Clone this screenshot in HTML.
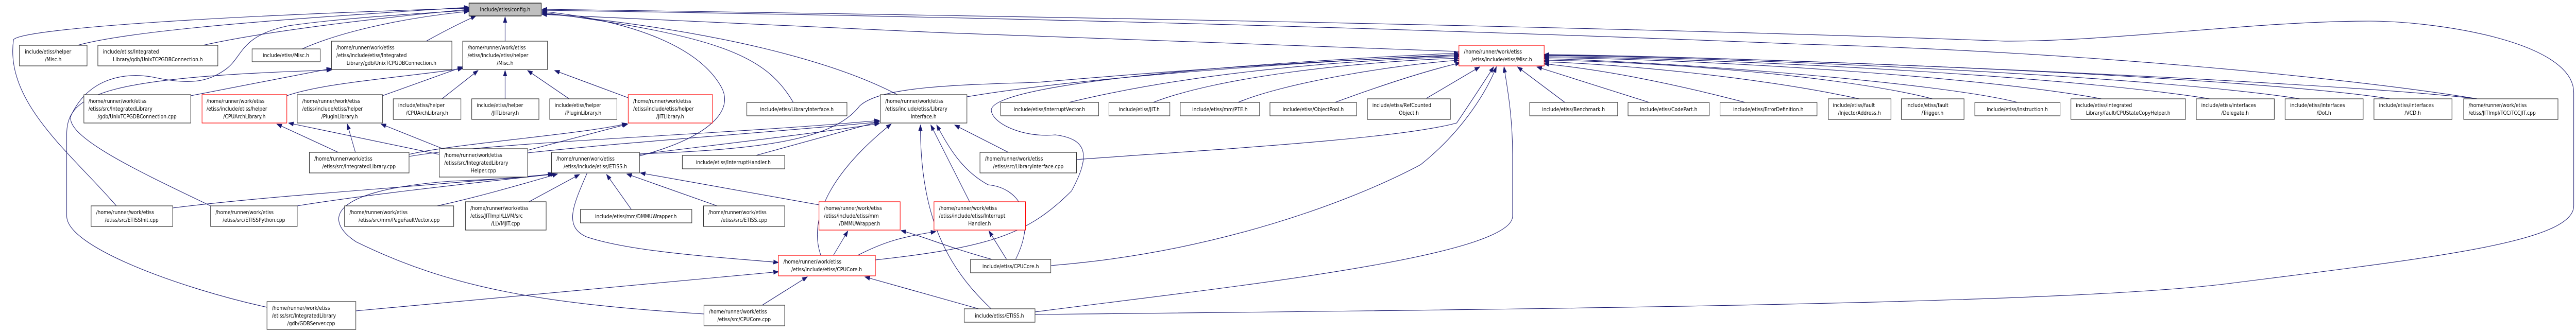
<!DOCTYPE html>
<html><head><meta charset="utf-8"><style>
html,body{margin:0;padding:0;background:#fff;width:100%;height:100%;overflow:hidden;}
svg{display:block;position:absolute;left:0;top:0;}
text{font-family:"DejaVu Sans","Liberation Sans",sans-serif;font-size:10.5px;fill:#000;}
</style></head><body>
<svg width="100%" height="100%" viewBox="0 0 5712 647" preserveAspectRatio="none" xmlns="http://www.w3.org/2000/svg">
<defs>
<marker id="a" markerUnits="userSpaceOnUse" markerWidth="12" markerHeight="10" refX="11" refY="5" orient="auto">
<path d="M0,1 L11,5 L0,9 Z" fill="#191970" stroke="#191970"/>
</marker>
</defs>
<g fill="none" stroke="#191970" stroke-width="1.1" marker-end="url(#a)">
<path d="M172,88 C320,52 800,28 1040,14"/>
<path d="M450,88 C620,55 900,30 1040,18"/>
<path d="M670,95 C760,60 900,34 1040,22"/>
<path d="M945,80 C990,58 1020,45 1055,31"/>
<path d="M258,400 C160,300 10,200 30,77 C50,55 500,30 1040,16"/>
<path d="M467,400 C300,330 130,260 160,220 C200,150 280,140 340,150 C420,165 460,160 500,135 C540,110 530,70 640,50 C760,35 900,28 1040,20"/>
<path d="M1120,80 L1120,33"/>
<path d="M1418,303 C1560,270 1630,220 1600,170 C1550,90 1400,40 1202,22"/>
<path d="M1759,199 C1700,110 1600,70 1202,24"/>
<path d="M1990,184 C1850,120 1600,60 1202,26"/>
<path d="M3235,100 C2800,90 1800,55 1202,28"/>
<path d="M5493,192 C5200,150 4600,100 4000,86 C3000,50 2000,30 1202,20"/>
<path d="M2295,611 C3500,600 4600,590 4950,550 C5400,500 5707,470 5707,400 L5707,180 C5707,80 5400,41 5254,41 C5000,41 4700,80 4446,80 C4000,65 3000,40 1202,18"/>
<path d="M423,186 L735,133"/>
<path d="M592,597 C400,560 148,480 148,420 L148,260 C148,180 240,150 735,136"/>
<path d="M636,186 C720,160 900,150 1026,133"/>
<path d="M848,186 L1026,130"/>
<path d="M980,192 L1060,137"/>
<path d="M1120,192 L1120,137"/>
<path d="M1262,192 L1170,137"/>
<path d="M1393,190 L1230,137"/>
<path d="M750,296 L614,241"/>
<path d="M974,300 L640,239"/>
<path d="M788,296 L770,241"/>
<path d="M982,289 L845,241"/>
<path d="M907,300 C1000,280 1300,260 1390,240"/>
<path d="M1170,292 L1392,241"/>
<path d="M907,304 C1100,275 1600,262 1950,234"/>
<path d="M1170,297 C1400,275 1700,258 1950,237"/>
<path d="M1418,300 C1600,280 1800,260 1950,240"/>
<path d="M1676,302 L1950,236"/>
<path d="M1820,496 C1790,420 1850,330 1976,241"/>
<path d="M2198,600 C2100,520 2040,420 2041,243"/>
<path d="M2150,392 L2064,243"/>
<path d="M2252,504 C2300,420 2260,365 2191,359 C2130,330 2100,280 2077,243"/>
<path d="M2236,296 L2117,243"/>
<path d="M2144,188 C2400,150 2900,120 3235,106"/>
<path d="M2370,199 C2600,150 2900,120 3235,110"/>
<path d="M2557,199 C2700,150 3000,120 3235,113"/>
<path d="M2745,199 C2850,160 3100,125 3235,117"/>
<path d="M2960,199 C3050,170 3150,140 3238,122"/>
<path d="M3163,191 L3281,130"/>
<path d="M3470,199 L3365,130"/>
<path d="M3657,199 L3408,130"/>
<path d="M3870,199 C3700,160 3550,135 3424,124"/>
<path d="M4123,192 C3900,150 3600,125 3424,120"/>
<path d="M4285,192 C4100,150 3700,120 3424,117"/>
<path d="M4474,199 C4300,160 3700,120 3424,114"/>
<path d="M4660,192 C4400,150 3800,115 3424,112"/>
<path d="M4900,192 C4600,150 3900,115 3424,110"/>
<path d="M5100,192 C4800,150 3900,112 3424,108"/>
<path d="M5300,192 C5000,150 3900,110 3424,107"/>
<path d="M5493,192 C5200,160 3900,110 3424,106"/>
<path d="M2387,310 C2700,290 3100,270 3230,239 C3260,200 3290,160 3312,130"/>
<path d="M2330,516 C2700,490 3000,390 3150,320 C3250,250 3300,170 3318,130"/>
<path d="M2295,606 C2700,560 3354,500 3354,420 L3354,300 C3354,220 3340,160 3335,130"/>
<path d="M1941,505 C2200,480 2281,454 2376,371 C2420,300 2410,270 2340,262 C2268,268 2200,240 2198,214 C2200,170 2600,130 3235,103"/>
<path d="M1418,299 C1700,290 1850,270 1906,206 C1950,170 2100,165 2300,160 C2700,130 3000,115 3235,108"/>
<path d="M383,404 C600,380 900,365 1228,338"/>
<path d="M659,400 C800,380 1000,360 1232,338"/>
<path d="M969,400 C1050,385 1150,360 1236,338"/>
<path d="M1173,392 L1285,339"/>
<path d="M1400,407 L1345,339"/>
<path d="M1590,400 L1390,338"/>
<path d="M1816,398 L1420,336"/>
<path d="M1561,610 C1200,590 1000,560 790,470 C720,430 720,370 1000,352 C1100,348 1180,345 1226,337"/>
<path d="M1302,336 C1270,400 1250,440 1300,460 C1400,490 1600,500 1726,510"/>
<path d="M789,604 C1100,580 1500,545 1726,528"/>
<path d="M1690,593 L1790,538"/>
<path d="M2170,600 L1918,538"/>
<path d="M1848,496 L1880,449"/>
<path d="M2200,504 C2100,480 2050,460 1998,448"/>
<path d="M1902,496 C1960,470 2000,460 2075,450"/>
<path d="M2232,504 L2193,449"/>
</g>
<g stroke-width="1.2">
<rect x="43" y="88" width="150" height="40" fill="#fff" stroke="#333"/>
<text x="55" y="104">include/etiss/helper</text><text x="118" y="119" text-anchor="middle">/Misc.h</text>
<rect x="217" y="88" width="266" height="40" fill="#fff" stroke="#333"/>
<text x="228" y="104">include/etiss/Integrated</text><text x="350" y="119" text-anchor="middle">Library/gdb/UnixTCPGDBConnection.h</text>
<rect x="559" y="95" width="151" height="25" fill="#fff" stroke="#333"/>
<text x="634" y="111" text-anchor="middle">include/etiss/Misc.h</text>
<rect x="735" y="80" width="267" height="55" fill="#fff" stroke="#333"/>
<text x="746" y="96">/home/runner/work/etiss</text><text x="746" y="111">/etiss/include/etiss/Integrated</text><text x="868" y="126" text-anchor="middle">Library/gdb/UnixTCPGDBConnection.h</text>
<rect x="1040" y="6" width="160" height="25" fill="#bfbfbf" stroke="#000"/>
<text x="1120" y="22" text-anchor="middle">include/etiss/config.h</text>
<rect x="1026" y="80" width="188" height="55" fill="#fff" stroke="#333"/>
<text x="1037" y="96">/home/runner/work/etiss</text><text x="1037" y="111">/etiss/include/etiss/helper</text><text x="1120" y="126" text-anchor="middle">/Misc.h</text>
<rect x="186" y="184" width="237" height="55" fill="#fff" stroke="#333"/>
<text x="196" y="200">/home/runner/work/etiss</text><text x="196" y="215">/etiss/src/IntegratedLibrary</text><text x="304" y="230" text-anchor="middle">/gdb/UnixTCPGDBConnection.cpp</text>
<rect x="448" y="184" width="188" height="55" fill="#fff" stroke="#f00"/>
<text x="458" y="200">/home/runner/work/etiss</text><text x="458" y="215">/etiss/include/etiss/helper</text><text x="542" y="230" text-anchor="middle">/CPUArchLibrary.h</text>
<rect x="659" y="184" width="189" height="55" fill="#fff" stroke="#333"/>
<text x="670" y="200">/home/runner/work/etiss</text><text x="670" y="215">/etiss/include/etiss/helper</text><text x="753" y="230" text-anchor="middle">/PluginLibrary.h</text>
<rect x="872" y="192" width="150" height="40" fill="#fff" stroke="#333"/>
<text x="883" y="208">include/etiss/helper</text><text x="947" y="223" text-anchor="middle">/CPUArchLibrary.h</text>
<rect x="1046" y="192" width="149" height="40" fill="#fff" stroke="#333"/>
<text x="1057" y="208">include/etiss/helper</text><text x="1120" y="223" text-anchor="middle">/JITLibrary.h</text>
<rect x="1219" y="192" width="149" height="40" fill="#fff" stroke="#333"/>
<text x="1230" y="208">include/etiss/helper</text><text x="1293" y="223" text-anchor="middle">/PluginLibrary.h</text>
<rect x="1393" y="184" width="187" height="55" fill="#fff" stroke="#f00"/>
<text x="1404" y="200">/home/runner/work/etiss</text><text x="1404" y="215">/etiss/include/etiss/helper</text><text x="1486" y="230" text-anchor="middle">/JITLibrary.h</text>
<rect x="1656" y="199" width="222" height="26" fill="#fff" stroke="#333"/>
<text x="1767" y="216" text-anchor="middle">include/etiss/LibraryInterface.h</text>
<rect x="1952" y="184" width="192" height="55" fill="#fff" stroke="#333"/>
<text x="1963" y="200">/home/runner/work/etiss</text><text x="1963" y="215">/etiss/include/etiss/Library</text><text x="2048" y="230" text-anchor="middle">Interface.h</text>
<rect x="686" y="296" width="221" height="40" fill="#fff" stroke="#333"/>
<text x="697" y="312">/home/runner/work/etiss</text><text x="796" y="327" text-anchor="middle">/etiss/src/IntegratedLibrary.cpp</text>
<rect x="974" y="289" width="196" height="55" fill="#fff" stroke="#333"/>
<text x="985" y="305">/home/runner/work/etiss</text><text x="985" y="320">/etiss/src/IntegratedLibrary</text><text x="1072" y="335" text-anchor="middle">Helper.cpp</text>
<rect x="1223" y="296" width="195" height="40" fill="#fff" stroke="#333"/>
<text x="1234" y="312">/home/runner/work/etiss</text><text x="1320" y="327" text-anchor="middle">/etiss/include/etiss/ETISS.h</text>
<rect x="1513" y="302" width="227" height="26" fill="#fff" stroke="#333"/>
<text x="1626" y="319" text-anchor="middle">include/etiss/InterruptHandler.h</text>
<rect x="2173" y="296" width="214" height="40" fill="#fff" stroke="#333"/>
<text x="2184" y="312">/home/runner/work/etiss</text><text x="2280" y="327" text-anchor="middle">/etiss/src/LibraryInterface.cpp</text>
<rect x="202" y="400" width="181" height="40" fill="#fff" stroke="#333"/>
<text x="213" y="416">/home/runner/work/etiss</text><text x="292" y="431" text-anchor="middle">/etiss/src/ETISSInit.cpp</text>
<rect x="467" y="400" width="192" height="40" fill="#fff" stroke="#333"/>
<text x="478" y="416">/home/runner/work/etiss</text><text x="563" y="431" text-anchor="middle">/etiss/src/ETISSPython.cpp</text>
<rect x="764" y="400" width="242" height="40" fill="#fff" stroke="#333"/>
<text x="775" y="416">/home/runner/work/etiss</text><text x="885" y="431" text-anchor="middle">/etiss/src/mm/PageFaultVector.cpp</text>
<rect x="1032" y="392" width="179" height="55" fill="#fff" stroke="#333"/>
<text x="1043" y="408">/home/runner/work/etiss</text><text x="1043" y="423">/etiss/JITImpl/LLVM/src</text><text x="1121" y="438" text-anchor="middle">/LLVMJIT.cpp</text>
<rect x="1287" y="407" width="247" height="26" fill="#fff" stroke="#333"/>
<text x="1410" y="424" text-anchor="middle">include/etiss/mm/DMMUWrapper.h</text>
<rect x="1560" y="400" width="180" height="40" fill="#fff" stroke="#333"/>
<text x="1571" y="416">/home/runner/work/etiss</text><text x="1650" y="431" text-anchor="middle">/etiss/src/ETISS.cpp</text>
<rect x="1816" y="392" width="180" height="55" fill="#fff" stroke="#f00"/>
<text x="1827" y="408">/home/runner/work/etiss</text><text x="1827" y="423">/etiss/include/etiss/mm</text><text x="1906" y="438" text-anchor="middle">/DMMUWrapper.h</text>
<rect x="2071" y="392" width="203" height="55" fill="#fff" stroke="#f00"/>
<text x="2082" y="408">/home/runner/work/etiss</text><text x="2082" y="423">/etiss/include/etiss/Interrupt</text><text x="2172" y="438" text-anchor="middle">Handler.h</text>
<rect x="1726" y="496" width="215" height="40" fill="#fff" stroke="#f00"/>
<text x="1737" y="512">/home/runner/work/etiss</text><text x="1833" y="527" text-anchor="middle">/etiss/include/etiss/CPUCore.h</text>
<rect x="2152" y="504" width="178" height="26" fill="#fff" stroke="#333"/>
<text x="2241" y="521" text-anchor="middle">include/etiss/CPUCore.h</text>
<rect x="592" y="586" width="197" height="54" fill="#fff" stroke="#333"/>
<text x="603" y="602">/home/runner/work/etiss</text><text x="603" y="617">/etiss/src/IntegratedLibrary</text><text x="690" y="632" text-anchor="middle">/gdb/GDBServer.cpp</text>
<rect x="1561" y="593" width="179" height="40" fill="#fff" stroke="#333"/>
<text x="1572" y="609">/home/runner/work/etiss</text><text x="1650" y="624" text-anchor="middle">/etiss/src/CPUCore.cpp</text>
<rect x="2138" y="600" width="157" height="26" fill="#fff" stroke="#333"/>
<text x="2216" y="617" text-anchor="middle">include/etiss/ETISS.h</text>
<rect x="2219" y="199" width="217" height="26" fill="#fff" stroke="#333"/>
<text x="2327" y="216" text-anchor="middle">include/etiss/InterruptVector.h</text>
<rect x="2459" y="199" width="135" height="26" fill="#fff" stroke="#333"/>
<text x="2526" y="216" text-anchor="middle">include/etiss/JIT.h</text>
<rect x="2617" y="199" width="176" height="26" fill="#fff" stroke="#333"/>
<text x="2705" y="216" text-anchor="middle">include/etiss/mm/PTE.h</text>
<rect x="2816" y="199" width="192" height="26" fill="#fff" stroke="#333"/>
<text x="2912" y="216" text-anchor="middle">include/etiss/ObjectPool.h</text>
<rect x="3032" y="192" width="184" height="40" fill="#fff" stroke="#333"/>
<text x="3043" y="208">include/etiss/RefCounted</text><text x="3124" y="223" text-anchor="middle">Object.h</text>
<rect x="3235" y="88" width="189" height="40" fill="#fff" stroke="#f00"/>
<text x="3246" y="104">/home/runner/work/etiss</text><text x="3330" y="119" text-anchor="middle">/etiss/include/etiss/Misc.h</text>
<rect x="3392" y="199" width="195" height="26" fill="#fff" stroke="#333"/>
<text x="3489" y="216" text-anchor="middle">include/etiss/Benchmark.h</text>
<rect x="3610" y="199" width="180" height="26" fill="#fff" stroke="#333"/>
<text x="3700" y="216" text-anchor="middle">include/etiss/CodePart.h</text>
<rect x="3814" y="199" width="215" height="26" fill="#fff" stroke="#333"/>
<text x="3921" y="216" text-anchor="middle">include/etiss/ErrorDefinition.h</text>
<rect x="4054" y="192" width="139" height="40" fill="#fff" stroke="#333"/>
<text x="4064" y="208">include/etiss/fault</text><text x="4123" y="223" text-anchor="middle">/InjectorAddress.h</text>
<rect x="4216" y="192" width="139" height="40" fill="#fff" stroke="#333"/>
<text x="4227" y="208">include/etiss/fault</text><text x="4285" y="223" text-anchor="middle">/Trigger.h</text>
<rect x="4379" y="199" width="189" height="26" fill="#fff" stroke="#333"/>
<text x="4473" y="216" text-anchor="middle">include/etiss/Instruction.h</text>
<rect x="4592" y="192" width="254" height="40" fill="#fff" stroke="#333"/>
<text x="4603" y="208">include/etiss/Integrated</text><text x="4719" y="223" text-anchor="middle">Library/fault/CPUStateCopyHelper.h</text>
<rect x="4870" y="192" width="173" height="40" fill="#fff" stroke="#333"/>
<text x="4881" y="208">include/etiss/interfaces</text><text x="4956" y="223" text-anchor="middle">/Delegate.h</text>
<rect x="5067" y="192" width="173" height="40" fill="#fff" stroke="#333"/>
<text x="5078" y="208">include/etiss/interfaces</text><text x="5153" y="223" text-anchor="middle">/Dot.h</text>
<rect x="5264" y="192" width="173" height="40" fill="#fff" stroke="#333"/>
<text x="5275" y="208">include/etiss/interfaces</text><text x="5350" y="223" text-anchor="middle">/VCD.h</text>
<rect x="5463" y="192" width="209" height="40" fill="#fff" stroke="#333"/>
<text x="5474" y="208">/home/runner/work/etiss</text><text x="5474" y="223">/etiss/JITImpl/TCC/TCCJIT.cpp</text>
</g>
</svg>
</body></html>
